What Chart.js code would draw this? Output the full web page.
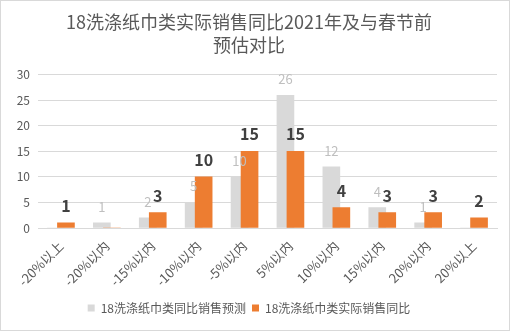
<!DOCTYPE html>
<html>
<head>
<meta charset="utf-8">
<script src="https://cdn.jsdelivr.net/npm/chart.js@4"></script>
<style>
    html, body { margin: 0; padding: 0; background: #fff; }
    #wrap {
        width: 510px; height: 331px;
        box-sizing: border-box;
        border: 1px solid #d9d9d9;
    }
</style>
</head>
<body>
<div id="wrap"><canvas id="chart" width="508" height="329"></canvas></div>
<script>
    const FONT = "'Noto Sans CJK SC', 'Noto Sans', sans-serif";
    const TEXT = "#595959";
    const GRID = "#d9d9d9";

    const titleLines = ["18洗涤纸巾类实际销售同比2021年及与春节前", "预估对比"];
    const categories = ["-20%以上", "-20%以内", "-15%以内", "-10%以内", "-5%以内",
        "5%以内", "10%以内", "15%以内", "20%以内", "20%以上"];
    const forecastName = "18洗涤纸巾类同比销售预测";
    const forecast = [0, 1, 2, 5, 10, 26, 12, 4, 1, 0];
    const actualName = "18洗涤纸巾类实际销售同比";
    const actual = [1, 0, 3, 10, 15, 15, 4, 3, 3, 2];
    const yTicks = [0, 5, 10, 15, 20, 25, 30];

    // the two series sit partly on top of each other, like overlapped columns
    const BAR_SHIFT = 5;
    const overlapBars = {
        id: "overlapBars",
        afterDatasetsUpdate(chart) {
            chart.data.datasets.forEach((ds, i) => {
                const shift = i === 0 ? -BAR_SHIFT : BAR_SHIFT;
                chart.getDatasetMeta(i).data.forEach(bar => { bar.x += shift; });
            });
        }
    };

    // value labels above each non-zero bar
    const valueLabels = {
        id: "valueLabels",
        afterDatasetsDraw(chart) {
            const ctx = chart.ctx;
            ctx.save();
            ctx.textAlign = "center";
            ctx.textBaseline = "alphabetic";
            chart.data.datasets.forEach((ds, i) => {
                ctx.font = i === 0 ? "13px " + FONT : "bold 16px " + FONT;
                ctx.fillStyle = i === 0 ? "#bfbfbf" : "#404040";
                chart.getDatasetMeta(i).data.forEach((bar, j) => {
                    const v = ds.data[j];
                    if (!v) return;
                    ctx.fillText(String(v), bar.x, bar.y - 11);
                });
            });
            ctx.restore();
        }
    };

    new Chart(document.getElementById("chart"), {
        type: "bar",
        data: {
            labels: categories,
            datasets: [
                { label: forecastName, data: forecast, backgroundColor: "#d9d9d9", barThickness: 17, order: 2 },
                { label: actualName, data: actual, backgroundColor: "#ed7d31", barThickness: 17, order: 1 }
            ]
        },
        options: {
            responsive: false,
            animation: false,
            layout: { padding: { left: 0, right: 12, top: 0, bottom: 6 } },
            datasets: { bar: { grouped: false } },
            plugins: {
                title: {
                    display: true,
                    text: titleLines,
                    color: TEXT,
                    font: { family: FONT, size: 18, weight: "normal", lineHeight: 1.3 },
                    padding: { top: 9, bottom: 18 }
                },
                legend: {
                    position: "bottom",
                    labels: {
                        color: TEXT,
                        font: { family: FONT, size: 12 },
                        boxWidth: 7,
                        boxHeight: 7,
                        padding: 6,
                        sort: (a, b) => a.datasetIndex - b.datasetIndex
                    }
                },
                tooltip: { enabled: false }
            },
            scales: {
                x: {
                    grid: { display: false },
                    border: { color: GRID },
                    ticks: {
                        color: TEXT,
                        font: { family: FONT, size: 13 },
                        minRotation: 45,
                        maxRotation: 45,
                        padding: 2
                    },
                    afterFit: s => { s.height = 68; }
                },
                y: {
                    min: 0,
                    max: 30,
                    afterBuildTicks: s => { s.ticks = yTicks.map(v => ({ value: v })); },
                    grid: { color: GRID, drawTicks: false },
                    border: { display: false },
                    ticks: {
                        color: TEXT,
                        font: { family: FONT, size: 12 },
                        padding: 8
                    },
                    afterFit: s => { s.width = 37; }
                }
            }
        },
        plugins: [overlapBars, valueLabels]
    });
</script>
</body>
</html>
